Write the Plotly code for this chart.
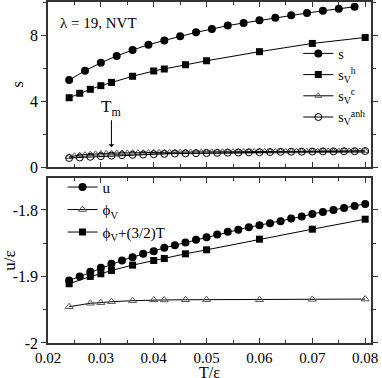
import plotly.graph_objects as go
from plotly.subplots import make_subplots

# ---- data ----
T_s = [0.024, 0.027, 0.030, 0.033, 0.036, 0.039, 0.042, 0.045, 0.048, 0.051,
       0.054, 0.057, 0.060, 0.063, 0.066, 0.069, 0.072, 0.075, 0.078]
s_tot = [5.27, 5.84, 6.32, 6.73, 7.09, 7.41, 7.67, 7.92, 8.16, 8.36,
         8.57, 8.73, 8.89, 9.05, 9.19, 9.33, 9.47, 9.59, 9.71]

T_h = [0.024, 0.026, 0.028, 0.030, 0.032, 0.036, 0.040, 0.042, 0.046, 0.050,
       0.060, 0.070, 0.080]
s_h = [4.20, 4.47, 4.71, 4.93, 5.13, 5.50, 5.82, 5.94, 6.20, 6.44,
       6.99, 7.49, 7.85]

T_c = [0.024, 0.025, 0.026, 0.027, 0.028, 0.029, 0.030, 0.031, 0.032, 0.033,
       0.034, 0.035, 0.036, 0.037, 0.038, 0.039, 0.040, 0.041, 0.042, 0.043,
       0.044, 0.045, 0.046, 0.047, 0.048, 0.049, 0.050, 0.051, 0.052, 0.053,
       0.054, 0.055, 0.056, 0.057, 0.058, 0.059, 0.060, 0.061, 0.062, 0.063,
       0.064, 0.065, 0.066, 0.067, 0.068, 0.069, 0.070, 0.071, 0.072, 0.073,
       0.074, 0.075, 0.076, 0.077, 0.078, 0.079, 0.080]
s_c = [0.62, 0.68, 0.72, 0.75, 0.78, 0.80, 0.82, 0.83, 0.84, 0.85,
       0.86, 0.86, 0.87, 0.87, 0.88, 0.88, 0.89, 0.89, 0.89, 0.90,
       0.90, 0.90, 0.91, 0.91, 0.91, 0.92, 0.92, 0.92, 0.92, 0.93,
       0.93, 0.93, 0.93, 0.94, 0.94, 0.94, 0.94, 0.95, 0.95, 0.95,
       0.95, 0.95, 0.96, 0.96, 0.96, 0.96, 0.96, 0.97, 0.97, 0.97,
       0.97, 0.97, 0.98, 0.98, 0.98, 0.98, 0.98]

T_u = [0.024, 0.026, 0.028, 0.030, 0.032, 0.034, 0.036, 0.038, 0.040, 0.042,
       0.044, 0.046, 0.048, 0.050, 0.052, 0.054, 0.056, 0.058, 0.060, 0.062,
       0.064, 0.066, 0.068, 0.070, 0.072, 0.074, 0.076, 0.078, 0.080]
s_anh = [0.55, 0.58, 0.62, 0.66, 0.69, 0.72, 0.74, 0.76, 0.78, 0.80,
         0.82, 0.83, 0.84, 0.85, 0.86, 0.87, 0.88, 0.89, 0.90, 0.91,
         0.92, 0.93, 0.93, 0.94, 0.95, 0.95, 0.96, 0.96, 0.97]
u = [-1.906, -1.900, -1.893, -1.887, -1.881, -1.876, -1.871, -1.866, -1.862, -1.857,
     -1.853, -1.849, -1.845, -1.841, -1.837, -1.833, -1.830, -1.826, -1.823, -1.820,
     -1.817, -1.813, -1.810, -1.806, -1.803, -1.800, -1.797, -1.794, -1.791]

T_phi = [0.024, 0.028, 0.030, 0.032, 0.036, 0.040, 0.042, 0.046, 0.050,
         0.060, 0.070, 0.080]
phi_v = [-1.9455, -1.9403, -1.9394, -1.9379, -1.9364, -1.9353, -1.9353, -1.9350,
         -1.9349, -1.9349, -1.9345, -1.9340]
phi_kin = [-1.911, -1.900, -1.896, -1.891, -1.883, -1.876, -1.873, -1.866,
           -1.860, -1.844, -1.829, -1.814]

FONT = "Liberation Serif"

fig = make_subplots(rows=2, cols=1, shared_xaxes=False, vertical_spacing=0.032)

line = dict(color="black", width=1)
fig.add_trace(go.Scatter(x=T_s, y=s_tot, mode="lines+markers", name="s", line=line,
                         marker=dict(symbol="circle", size=8, color="black")), row=1, col=1)
fig.add_trace(go.Scatter(x=T_h, y=s_h, mode="lines+markers",
                         name="s<sub>V</sub><sup>h</sup>", line=line,
                         marker=dict(symbol="square", size=7, color="black")), row=1, col=1)
fig.add_trace(go.Scatter(x=T_c, y=s_c, mode="lines+markers",
                         name="s<sub>V</sub><sup>c</sup>", line=line,
                         marker=dict(symbol="triangle-up-open", size=6, color="#555",
                                     line=dict(width=1))), row=1, col=1)
fig.add_trace(go.Scatter(x=T_u, y=s_anh, mode="lines+markers",
                         name="s<sub>V</sub><sup>anh</sup>", line=line,
                         marker=dict(symbol="circle-open", size=7, color="black",
                                     line=dict(width=1))), row=1, col=1)

fig.add_trace(go.Scatter(x=T_u, y=u, mode="lines+markers", name="u", line=line,
                         legend="legend2",
                         marker=dict(symbol="circle", size=8, color="black")), row=2, col=1)
fig.add_trace(go.Scatter(x=T_phi, y=phi_v, mode="lines+markers",
                         name="\u03d5<sub>V</sub>", line=line, legend="legend2",
                         marker=dict(symbol="triangle-up-open", size=7, color="#555",
                                     line=dict(width=1))), row=2, col=1)
fig.add_trace(go.Scatter(x=T_phi, y=phi_kin, mode="lines+markers",
                         name="\u03d5<sub>V</sub>+(3/2)T", line=line, legend="legend2",
                         marker=dict(symbol="square", size=7, color="black")), row=2, col=1)

xax = dict(range=[0.02, 0.0811], dtick=0.01, ticks="inside", ticklen=5,
           showline=True, linecolor="#333", linewidth=1.5, mirror="ticks",
           tickcolor="#333", showgrid=False, zeroline=False,
           minor=dict(dtick=0.005, ticks="inside", ticklen=3, tickcolor="#333"))
fig.update_xaxes(**xax)
fig.update_xaxes(showticklabels=False, row=1, col=1)
fig.update_xaxes(tickformat=".2f", tickfont=dict(size=15), row=2, col=1)

yax = dict(ticks="outside", ticklen=5, showline=True, linecolor="#333", linewidth=1.5,
           mirror="ticks", tickcolor="#333", showgrid=False, zeroline=False,
           tickfont=dict(size=16))
fig.update_yaxes(**yax)
fig.update_yaxes(range=[0, 10], dtick=4, title=dict(text="s", font=dict(size=17), standoff=2),
                 minor=dict(dtick=2, ticks="outside", ticklen=3, tickcolor="#333"),
                 row=1, col=1)
fig.update_yaxes(range=[-2, -1.752], tickvals=[-2, -1.9, -1.8], ticktext=["-2", "-1.9", "-1.8"],
                 title=dict(text="u/\u03b5", font=dict(size=17), standoff=4),
                 minor=dict(tickvals=[-1.95, -1.85], ticks="outside", ticklen=3, tickcolor="#333"),
                 row=2, col=1)

# x-axis title as an annotation so it can sit right at the bottom edge
fig.add_annotation(x=0.5, y=-0.084, xref="x2 domain", yref="paper", yanchor="middle",
                   height=12, text="T/\u03b5", showarrow=False,
                   font=dict(size=16, family=FONT))

fig.add_annotation(x=0.032, y=1.2, ax=0.032, ay=3.6, axref="x", ayref="y",
                   xref="x", yref="y", text="T<sub>m</sub>", showarrow=True,
                   arrowhead=1, arrowsize=1, arrowwidth=1, arrowcolor="black",
                   font=dict(size=17, family=FONT))
fig.add_annotation(x=0.03, y=0.87, xref="x domain", yref="y domain", xanchor="left",
                   yanchor="middle", text="\u03bb = 19, NVT", showarrow=False,
                   font=dict(size=15, family=FONT))

fig.update_layout(
    width=382, height=378,
    margin=dict(l=48, r=11, t=2, b=35, autoexpand=False),
    paper_bgcolor="white", plot_bgcolor="white",
    font=dict(family=FONT, size=16, color="black"),
    legend=dict(x=0.775, y=0.895, xanchor="left", yanchor="top", bgcolor="rgba(0,0,0,0)",
                font=dict(size=14), tracegroupgap=0),
    legend2=dict(x=0.045, y=0.505, xanchor="left", yanchor="top", bgcolor="rgba(0,0,0,0)",
                 font=dict(size=15), tracegroupgap=0),
)

# the page body has a default 8px margin; drop it so the figure sits at the window origin
fig.write_html("out.html", config={"displayModeBar": False},
               post_script="document.body.style.margin='0';")
